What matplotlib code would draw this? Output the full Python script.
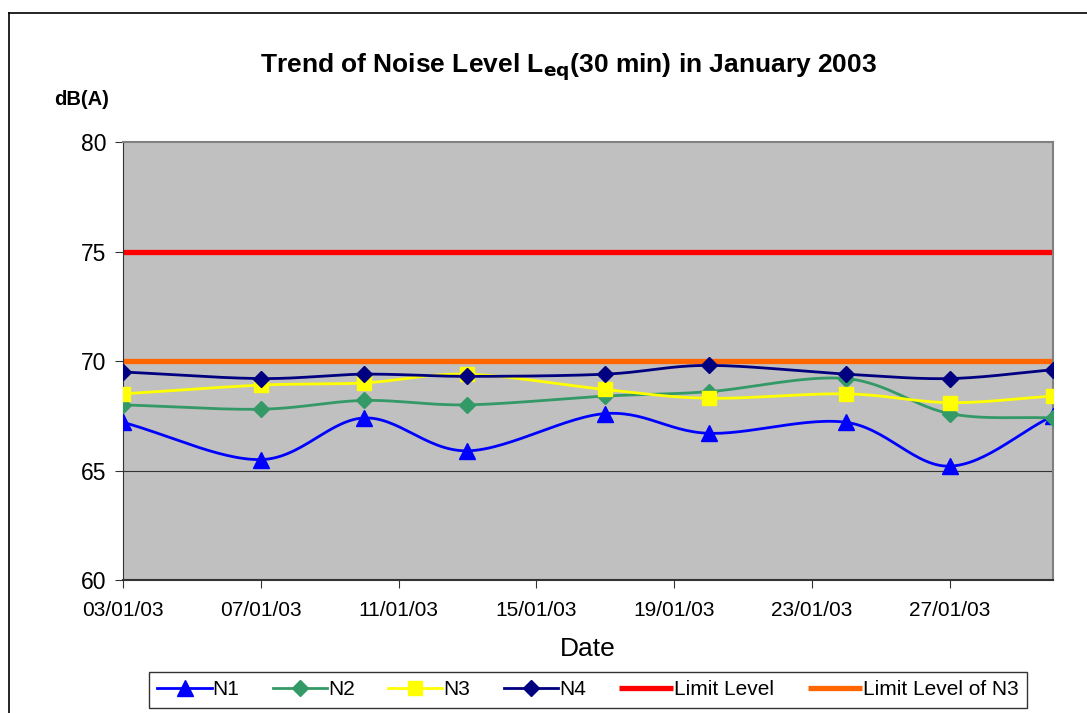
import numpy as np
import matplotlib.pyplot as plt
import matplotlib.dates as mdates
from datetime import date, timedelta

plt.rcParams['font.family'] = ['Liberation Sans', 'DejaVu Sans']

dates = ["2003-01-03", "2003-01-07", "2003-01-10", "2003-01-13", "2003-01-17",
         "2003-01-20", "2003-01-24", "2003-01-27", "2003-01-30"]
n1 = [67.2, 65.5, 67.4, 65.9, 67.6, 66.7, 67.2, 65.2, 67.5]
n2 = [68.0, 67.8, 68.2, 68.0, 68.4, 68.6, 69.2, 67.6, 67.4]
n3 = [68.5, 68.9, 69.0, 69.4, 68.7, 68.3, 68.5, 68.1, 68.4]
n4 = [69.5, 69.2, 69.4, 69.3, 69.4, 69.8, 69.4, 69.2, 69.6]
limit = 75
limit_n3 = 70
tick_labels = ["03/01/03", "07/01/03", "11/01/03", "15/01/03",
               "19/01/03", "23/01/03", "27/01/03"]

x = mdates.datestr2num(dates)


def smooth(xs, ys, n=30):
    # catmull-rom style smoothing, similar to excel "smoothed line"
    xs = np.asarray(xs, float)
    ys = np.asarray(ys, float)
    px = np.concatenate([[2 * xs[0] - xs[1]], xs, [2 * xs[-1] - xs[-2]]])
    py = np.concatenate([[2 * ys[0] - ys[1]], ys, [2 * ys[-1] - ys[-2]]])
    ox, oy = [], []
    t = np.linspace(0, 1, n, endpoint=False)
    for i in range(1, len(px) - 2):
        for arr, out in ((px, ox), (py, oy)):
            p0, p1, p2, p3 = arr[i - 1], arr[i], arr[i + 1], arr[i + 2]
            out.extend(0.5 * (2 * p1 + (-p0 + p2) * t
                              + (2 * p0 - 5 * p1 + 4 * p2 - p3) * t ** 2
                              + (-p0 + 3 * p1 - 3 * p2 + p3) * t ** 3))
    ox.append(xs[-1])
    oy.append(ys[-1])
    return np.array(ox), np.array(oy)


fig = plt.figure(figsize=(10.87, 7.13), dpi=100)
ax = fig.add_axes([0.1132, 0.1865, 0.8555, 0.6143])
ax.set_facecolor('#C0C0C0')

# outer frame
fig.add_artist(plt.Line2D([0.0083, 0.0083], [0.0, 0.982], color='black', lw=1.2, transform=fig.transFigure))
fig.add_artist(plt.Line2D([0.0083, 1.0], [0.982, 0.982], color='black', lw=1.2, transform=fig.transFigure))

for yv in [65, 70, 75]:
    ax.axhline(yv, color='#333333', lw=0.8, zorder=1)

lim1, = ax.plot([x[0], x[-1]], [limit, limit], color='#FF0000', lw=3.8, zorder=2,
                solid_capstyle='butt', label='Limit Level')
lim2, = ax.plot([x[0], x[-1]], [limit_n3, limit_n3], color='#FF6600', lw=3.8, zorder=2,
                solid_capstyle='butt', label='Limit Level of N3')

series = [(n1, 'N1', '#0000FF', '^', 11),
          (n2, 'N2', '#339966', 'D', 8),
          (n3, 'N3', '#FFFF00', 's', 10),
          (n4, 'N4', '#000080', 'D', 8)]
handles = []
for ys, name, col, mk, ms in series:
    sx, sy = smooth(x, ys)
    ax.plot(sx, sy, color=col, lw=2.0, zorder=3)
    ax.plot(x, ys, ls='none', marker=mk, ms=ms, color=col, zorder=4)
    h, = ax.plot([], [], color=col, lw=2.0, marker=mk, ms=ms, label=name)
    handles.append(h)

leg = ax.legend(handles=handles + [lim1, lim2], loc='upper center',
                bbox_to_anchor=(0.5, -0.186), ncol=6, frameon=True, fancybox=False,
                edgecolor='black', fontsize=15, handlelength=2.6, handletextpad=0.05,
                columnspacing=1.6, borderpad=0.4)
leg.get_frame().set_linewidth(1.0)

ax.set_xlim(x[0], x[-1])
ax.set_ylim(60, 80)
ax.set_yticks([60, 65, 70, 75, 80])
ax.tick_params(axis='y', labelsize=16.5, length=6, pad=6, direction='out', color='#333333')
start = date(2003, 1, 3)
ticks = [mdates.date2num(start + timedelta(days=4 * i)) for i in range(len(tick_labels))]
ax.set_xticks(ticks)
ax.set_xticklabels(tick_labels)
ax.tick_params(axis='x', labelsize=15, length=6, direction='out', pad=9, color='#333333')

for side in ['top', 'right']:
    ax.spines[side].set_color('#808080')
    ax.spines[side].set_linewidth(1.5)
ax.spines['left'].set_color('#333333')
ax.spines['bottom'].set_color('#333333')
ax.spines['bottom'].set_linewidth(1.5)

ax.set_xlabel('Date', fontsize=19, labelpad=12)
fig.text(0.523, 0.906, r'Trend of Noise Level L$_{\mathbf{eq}}$(30 min) in January 2003',
         ha='center', va='center', fontsize=19, fontweight='bold')
fig.text(0.075, 0.860, 'dB(A)', ha='center', va='center', fontsize=14.5, fontweight='bold')

fig.savefig('out.png', dpi=100)
